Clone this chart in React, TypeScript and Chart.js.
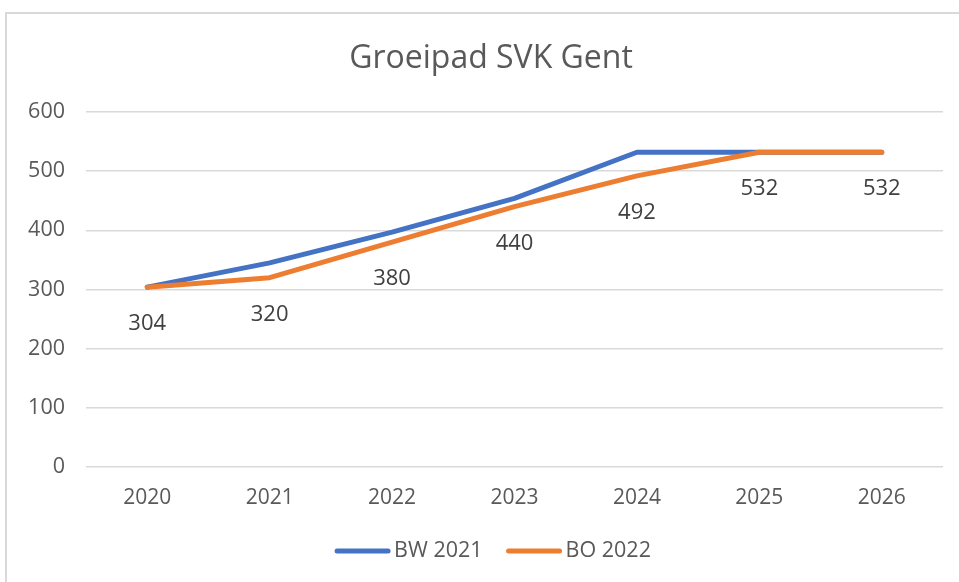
import React, { useEffect, useRef } from "react";
import { Chart, registerables } from "chart.js";

Chart.register(...registerables);

const TITLE = "Groeipad SVK Gent";
const YEARS = ["2020", "2021", "2022", "2023", "2024", "2025", "2026"];
const BW_2021 = [304, 345, 397, 454, 532, 532, 532];
const BO_2022 = [304, 320, 380, 440, 492, 532, 532];
const SERIES_LABELS = ["BW 2021", "BO 2022"];
const SERIES_COLORS = ["#4472C4", "#ED7D31"];
const Y_TICKS = [0, 100, 200, 300, 400, 500, 600];

const FONT = "'Open Sans', 'Liberation Sans', sans-serif";
const TEXT = "#595959";

export default function App() {
  const ref = useRef<HTMLCanvasElement | null>(null);
  useEffect(() => {
    const canvas = ref.current!;
    const framePlugin = {
      id: "frame",
      beforeDraw(chart: any) {
        const ctx = chart.ctx;
        ctx.save();
        ctx.fillStyle = "#ffffff";
        ctx.fillRect(0, 0, chart.width, chart.height);
        ctx.strokeStyle = "#D9D9D9";
        ctx.lineWidth = 2;
        ctx.strokeRect(6, 13, chart.width + 20, chart.height + 20);
        ctx.restore();
      },
      afterDraw(chart: any) {
        const ctx = chart.ctx;
        ctx.save();
        // title
        ctx.fillStyle = TEXT;
        ctx.font = `32px ${FONT}`;
        ctx.textAlign = "center";
        ctx.textBaseline = "middle";
        ctx.fillText(TITLE, 491, 59);
        // legend
        ctx.font = `21.5px ${FONT}`;
        ctx.textAlign = "left";
        const items = chart.data.datasets.map((d: any) => ({ label: d.label, color: d.borderColor }));
        const lineW = 55, gap = 4, between = 24;
        const widths = items.map((it: any) => lineW + gap + ctx.measureText(it.label).width);
        const total = widths.reduce((a: number, b: number) => a + b, 0) + between * (items.length - 1);
        let x = 493 - total / 2;
        const y = 551;
        items.forEach((it: any, i: number) => {
          ctx.strokeStyle = it.color;
          ctx.lineWidth = 5;
          ctx.lineCap = "round";
          ctx.beginPath();
          ctx.moveTo(x + 2, y);
          ctx.lineTo(x + lineW - 2, y);
          ctx.stroke();
          ctx.fillStyle = TEXT;
          ctx.fillText(it.label, x + lineW + gap, y);
          x += widths[i] + between;
        });
        ctx.restore();
      },
      afterDatasetsDraw(chart: any) {
        const ctx = chart.ctx;
        const meta = chart.getDatasetMeta(1);
        ctx.save();
        ctx.fillStyle = "#404040";
        ctx.font = `22px ${FONT}`;
        ctx.textAlign = "center";
        ctx.textBaseline = "middle";
        meta.data.forEach((pt: any, i: number) => {
          ctx.fillText(String(BO_2022[i]), pt.x, pt.y + 37);
        });
        ctx.restore();
      },
    };
    const chart = new Chart(canvas, {
      type: "line",
      data: {
        labels: YEARS,
        datasets: [
          {
            label: SERIES_LABELS[0],
            data: BW_2021,
            borderColor: SERIES_COLORS[0],
            backgroundColor: SERIES_COLORS[0],
            borderWidth: 5,
            pointRadius: 0,
            borderCapStyle: "round",
            borderJoinStyle: "round",
            tension: 0,
            order: 1,
          },
          {
            label: SERIES_LABELS[1],
            data: BO_2022,
            borderColor: SERIES_COLORS[1],
            backgroundColor: SERIES_COLORS[1],
            borderWidth: 5,
            pointRadius: 0,
            borderCapStyle: "round",
            borderJoinStyle: "round",
            tension: 0,
            order: 0,
          },
        ],
      },
      options: {
        animation: false,
        responsive: false,
        layout: { padding: { top: 112, left: 5, right: 16, bottom: 70 } },
        plugins: {
          legend: { display: false },
          title: { display: false },
          tooltip: { enabled: false },
        },
        scales: {
          x: {
            offset: true,
            grid: { display: false, drawTicks: false },
            border: { display: false },
            ticks: { color: TEXT, font: { family: FONT, size: 21 }, padding: 18, maxRotation: 0 },
            afterFit: (s: any) => { s.height = 45; },
          },
          y: {
            min: 0,
            max: 600,
            afterBuildTicks: (s: any) => { s.ticks = Y_TICKS.map((v) => ({ value: v })); },
            grid: { color: "#D9D9D9", lineWidth: 1.5, drawTicks: false },
            border: { display: false },
            ticks: { color: TEXT, font: { family: FONT, size: 21.5 }, padding: 21 },
            afterFit: (s: any) => { s.width = 81; },
          },
        },
      },
      plugins: [framePlugin],
    } as any);
    return () => chart.destroy();
  }, []);
  return (
    <div style={{ position: "absolute", left: 0, top: 0, width: 959, height: 582 }}>
      <canvas ref={ref} width={959} height={582} style={{ display: "block" }} />
    </div>
  );
}
